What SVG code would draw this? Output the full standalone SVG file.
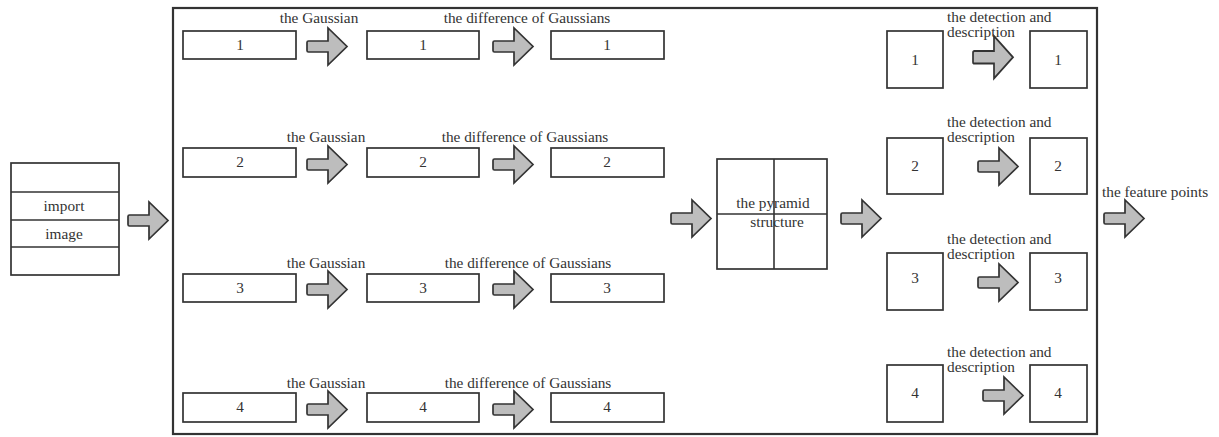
<svg xmlns="http://www.w3.org/2000/svg" xmlns:xlink="http://www.w3.org/1999/xlink" width="1219" height="437" viewBox="0 0 1219 437">
<style>
  .box{fill:#fff;stroke:#333;stroke-width:1.7}
  .frame{fill:none;stroke:#333;stroke-width:2.2}
  .ln{stroke:#333;stroke-width:1.6;fill:none}
  .t{font-family:"Liberation Serif","Times New Roman",serif;font-size:15.3px;fill:#333}
  .m{text-anchor:middle}
  .arr{fill:#bdbdbd;stroke:#333;stroke-width:1.7;stroke-linejoin:miter}
</style>
<defs>
  <path id="ar" d="M1.5,13 H21 V0 L40,18.5 L21,37 V24 H1.5 Q0,24 0,22.5 V14.5 Q0,13 1.5,13 Z"/>
</defs>
<rect class="frame" x="173" y="8" width="924" height="426"/>

<g id="import-image">
  <rect class="box" x="11" y="163" width="108" height="112"/>
  <line class="ln" x1="11" y1="192" x2="119" y2="192"/>
  <line class="ln" x1="11" y1="220" x2="119" y2="220"/>
  <line class="ln" x1="11" y1="247" x2="119" y2="247"/>
  <text class="t m" x="64" y="211">import</text>
  <text class="t m" x="64" y="239">image</text>
</g>

<g id="row1">
  <rect class="box" x="183" y="31" width="113" height="28"/><text class="t m" x="240" y="50">1</text>
  <rect class="box" x="367" y="31" width="112" height="28"/><text class="t m" x="423" y="50">1</text>
  <rect class="box" x="551" y="31" width="113" height="28"/><text class="t m" x="607" y="50">1</text>
  <text class="t m" x="319" y="23">the Gaussian</text>
  <text class="t m" x="527" y="23">the difference of Gaussians</text>
</g>
<g id="row2">
  <rect class="box" x="183" y="148" width="113" height="29"/><text class="t m" x="240" y="167">2</text>
  <rect class="box" x="367" y="148" width="112" height="29"/><text class="t m" x="423" y="167">2</text>
  <rect class="box" x="551" y="148" width="113" height="29"/><text class="t m" x="607" y="167">2</text>
  <text class="t m" x="326" y="142">the Gaussian</text>
  <text class="t m" x="525" y="142">the difference of Gaussians</text>
</g>
<g id="row3">
  <rect class="box" x="183" y="274" width="113" height="28"/><text class="t m" x="240" y="293">3</text>
  <rect class="box" x="367" y="274" width="112" height="28"/><text class="t m" x="423" y="293">3</text>
  <rect class="box" x="551" y="274" width="113" height="28"/><text class="t m" x="607" y="293">3</text>
  <text class="t m" x="326" y="268">the Gaussian</text>
  <text class="t m" x="528" y="268">the difference of Gaussians</text>
</g>
<g id="row4">
  <rect class="box" x="183" y="393" width="113" height="29"/><text class="t m" x="240" y="412">4</text>
  <rect class="box" x="367" y="393" width="112" height="29"/><text class="t m" x="423" y="412">4</text>
  <rect class="box" x="551" y="393" width="113" height="29"/><text class="t m" x="607" y="412">4</text>
  <text class="t m" x="326" y="388">the Gaussian</text>
  <text class="t m" x="528" y="388">the difference of Gaussians</text>
</g>

<g id="pyramid">
  <rect class="box" x="717" y="159" width="110" height="110"/>
  <line class="ln" x1="774" y1="159" x2="774" y2="269"/>
  <line class="ln" x1="717" y1="214" x2="827" y2="214"/>
  <text class="t m" x="773" y="208">the pyramid</text>
  <text class="t m" x="777" y="227">structure</text>
</g>

<g id="detect1">
  <rect class="box" x="887" y="31" width="56" height="57"/><text class="t m" x="915" y="65">1</text>
  <rect class="box" x="1030" y="31" width="57" height="57"/><text class="t m" x="1058" y="65">1</text>
  <text class="t" x="947" y="22">the detection and</text>
  <text class="t" x="947" y="37">description</text>
</g>
<g id="detect2">
  <rect class="box" x="887" y="138" width="56" height="56"/><text class="t m" x="915" y="171">2</text>
  <rect class="box" x="1030" y="138" width="57" height="56"/><text class="t m" x="1058" y="171">2</text>
  <text class="t" x="947" y="127">the detection and</text>
  <text class="t" x="947" y="142">description</text>
</g>
<g id="detect3">
  <rect class="box" x="887" y="253" width="56" height="57"/><text class="t m" x="915" y="283">3</text>
  <rect class="box" x="1030" y="253" width="57" height="57"/><text class="t m" x="1058" y="283">3</text>
  <text class="t" x="947" y="244">the detection and</text>
  <text class="t" x="947" y="259">description</text>
</g>
<g id="detect4">
  <rect class="box" x="887" y="365" width="56" height="57"/><text class="t m" x="915" y="398">4</text>
  <rect class="box" x="1030" y="365" width="57" height="57"/><text class="t m" x="1058" y="398">4</text>
  <text class="t" x="947" y="357">the detection and</text>
  <text class="t" x="947" y="372">description</text>
</g>

<g id="feature-points">
  <text class="t" x="1102" y="197">the feature points</text>
</g>

<g id="connectors">
  <use href="#ar" class="arr" x="128" y="202"/>
  <use href="#ar" class="arr" x="307" y="28"/>
  <use href="#ar" class="arr" x="493" y="28"/>
  <use href="#ar" class="arr" x="307" y="146"/>
  <use href="#ar" class="arr" x="493" y="146"/>
  <use href="#ar" class="arr" x="307" y="271"/>
  <use href="#ar" class="arr" x="493" y="271"/>
  <use href="#ar" class="arr" x="307" y="391"/>
  <use href="#ar" class="arr" x="493" y="391"/>
  <use href="#ar" class="arr" x="671" y="200"/>
  <use href="#ar" class="arr" x="841" y="200"/>
  <use href="#ar" class="arr" transform="translate(973,36) scale(1,1.15)"/>
  <use href="#ar" class="arr" x="978" y="148"/>
  <use href="#ar" class="arr" x="978" y="264"/>
  <use href="#ar" class="arr" x="983" y="377"/>
  <use href="#ar" class="arr" x="1104" y="200"/>
</g>
</svg>
